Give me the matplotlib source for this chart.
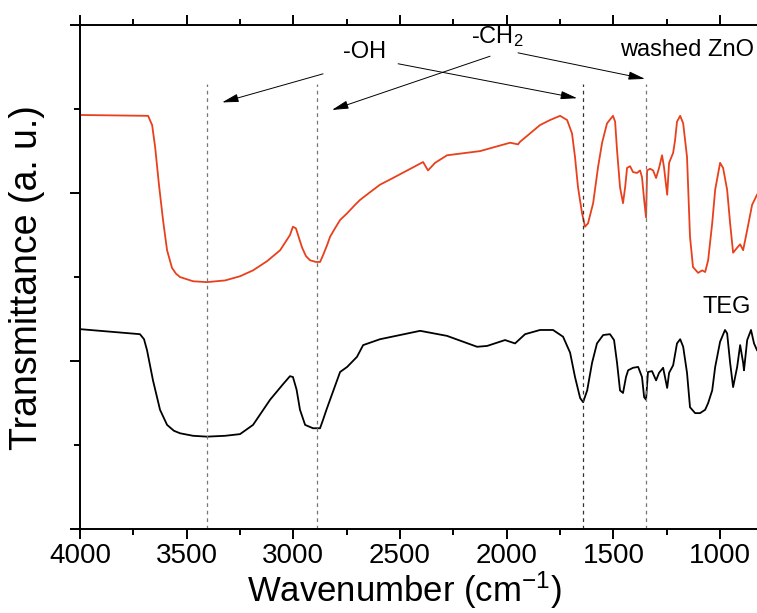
import numpy as np
import matplotlib.pyplot as plt
from matplotlib.ticker import MultipleLocator

plt.rcParams['font.family'] = ['Liberation Sans', 'DejaVu Sans']
plt.rcParams['mathtext.fontset'] = 'custom'
plt.rcParams['mathtext.rm'] = 'Liberation Sans'
plt.rcParams['mathtext.it'] = 'Liberation Sans'

# washed ZnO spectrum (wavenumber, transmittance a.u.)
zno_wn = [4000, 3681, 3662, 3648, 3630, 3611, 3592, 3569, 3550, 3531, 3470, 3405, 3320,
          3250, 3189, 3123, 3062, 3016, 3002, 2988, 2973, 2959, 2941, 2922, 2894, 2875,
          2861, 2842, 2828, 2805, 2781, 2748, 2711, 2687, 2641, 2594, 2533, 2392, 2369,
          2336, 2280, 2125, 1984, 1947, 1938, 1844, 1797, 1750, 1717, 1694, 1680, 1666,
          1647, 1633, 1619, 1595, 1572, 1553, 1530, 1502, 1492, 1483, 1469, 1455, 1445,
          1436, 1422, 1408, 1389, 1375, 1366, 1356, 1347, 1342, 1328, 1314, 1300, 1286,
          1272, 1263, 1248, 1239, 1220, 1211, 1202, 1187, 1173, 1155, 1141, 1127, 1103,
          1084, 1070, 1056, 1037, 1023, 1000, 986, 967, 953, 939, 920, 906, 892, 873,
          850, 827]
zno_t = [4.93, 4.92, 4.81, 4.55, 4.10, 3.68, 3.32, 3.11, 3.04, 3.00, 2.95, 2.94, 2.96,
         3.01, 3.08, 3.19, 3.32, 3.50, 3.60, 3.58, 3.46, 3.35, 3.25, 3.20, 3.18, 3.18,
         3.26, 3.38, 3.48, 3.58, 3.68, 3.76, 3.86, 3.92, 4.01, 4.10, 4.18, 4.37, 4.27,
         4.36, 4.45, 4.50, 4.60, 4.58, 4.61, 4.81, 4.87, 4.92, 4.87, 4.71, 4.43, 4.07,
         3.76, 3.60, 3.64, 3.88, 4.31, 4.60, 4.83, 4.92, 4.85, 4.51, 4.07, 3.88, 4.07,
         4.30, 4.32, 4.25, 4.24, 4.27, 4.19, 3.92, 3.71, 4.27, 4.29, 4.27, 4.18, 4.30,
         4.45, 4.31, 3.98, 4.36, 4.48, 4.63, 4.85, 4.92, 4.83, 4.43, 3.48, 3.12, 3.05,
         3.08, 3.06, 3.20, 3.64, 4.04, 4.36, 4.30, 4.04, 3.64, 3.29, 3.35, 3.39, 3.32,
         3.56, 3.86, 3.98]

# TEG spectrum
teg_wn = [4000, 3719, 3700, 3686, 3658, 3625, 3592, 3560, 3531, 3470, 3405, 3320, 3250,
          3189, 3109, 3050, 3016, 3002, 2985, 2969, 2945, 2908, 2875, 2861, 2845, 2828,
          2781, 2748, 2702, 2673, 2594, 2500, 2406, 2280, 2139, 2092, 2008, 1961, 1914,
          1844, 1783, 1736, 1703, 1680, 1656, 1642, 1623, 1600, 1577, 1548, 1516, 1497,
          1483, 1469, 1455, 1441, 1431, 1408, 1384, 1366, 1356, 1347, 1338, 1319, 1300,
          1286, 1267, 1248, 1239, 1220, 1202, 1187, 1173, 1155, 1141, 1117, 1094, 1070,
          1056, 1037, 1023, 1000, 977, 967, 953, 939, 920, 906, 892, 888, 873, 855, 841,
          827]
teg_t = [2.38, 2.32, 2.26, 2.13, 1.77, 1.42, 1.24, 1.17, 1.14, 1.11, 1.10, 1.11, 1.13,
         1.24, 1.54, 1.72, 1.82, 1.81, 1.66, 1.42, 1.24, 1.20, 1.20, 1.30, 1.42, 1.54,
         1.87, 1.93, 2.05, 2.19, 2.26, 2.31, 2.36, 2.30, 2.17, 2.18, 2.25, 2.21, 2.32,
         2.37, 2.37, 2.29, 2.10, 1.81, 1.56, 1.51, 1.65, 1.98, 2.21, 2.31, 2.32, 2.25,
         1.98, 1.65, 1.62, 1.81, 1.89, 1.92, 1.93, 1.81, 1.57, 1.54, 1.87, 1.88, 1.77,
         1.86, 1.92, 1.68, 1.86, 1.95, 2.21, 2.26, 2.17, 1.86, 1.45, 1.38, 1.38, 1.42,
         1.50, 1.65, 1.93, 2.23, 2.37, 2.33, 1.98, 1.69, 1.93, 2.19, 1.98, 1.89, 2.25,
         2.37, 2.21, 2.13]

# marked band positions
bands = [3405, 2890, 1642, 1347]
band_top = 5.30

fig = plt.figure(figsize=(7.57, 6.13), dpi=100)
ax = fig.add_axes([0.1057, 0.137, 0.8943, 0.822])

ax.plot(zno_wn, zno_t, color='#e8401c', lw=1.3, solid_joinstyle='round')
ax.plot(teg_wn, teg_t, color='black', lw=1.3, solid_joinstyle='round')

for i, b in enumerate(bands):
    ax.plot([b, b], [0, band_top], ls=(0, (3, 3)), lw=0.9,
            color='#333333' if i == 2 else '#777777')

arrow = dict(arrowstyle='-|>,head_length=1.0,head_width=0.25', color='black',
             lw=0.7, shrinkA=0, shrinkB=0)
ax.text(2664, 5.68, '-OH', fontsize=17, ha='center', va='center')
ax.annotate('', xy=(3334, 5.08), xytext=(2861, 5.42), arrowprops=arrow)
ax.annotate('', xy=(1670, 5.13), xytext=(2509, 5.54), arrowprops=arrow)
ax.text(2045, 5.86, '-CH$_{2}$', fontsize=17, ha='center', va='center')
ax.annotate('', xy=(2819, 4.99), xytext=(2078, 5.63), arrowprops=arrow)
ax.annotate('', xy=(1352, 5.36), xytext=(1947, 5.67), arrowprops=arrow)
ax.text(1155, 5.70, 'washed ZnO', fontsize=17, ha='center', va='center')
ax.text(967, 2.64, 'TEG', fontsize=17, ha='center', va='center')

ax.set_xlim(4000, 827)
ax.set_ylim(0, 6)
ax.xaxis.set_major_locator(MultipleLocator(500))
ax.xaxis.set_minor_locator(MultipleLocator(250))
ax.yaxis.set_major_locator(MultipleLocator(2))
ax.yaxis.set_minor_locator(MultipleLocator(1))
ax.tick_params(which='both', direction='out', width=1.4, top=True, right=False,
               labeltop=False, labelleft=False)
ax.tick_params(which='major', length=7, labelsize=20, pad=3)
ax.tick_params(which='minor', length=4)
ax.spines['right'].set_visible(False)
for s in ['left', 'top', 'bottom']:
    ax.spines[s].set_linewidth(1.4)

ax.set_xlabel('Wavenumber (cm$^{-1}$)', fontsize=25)
ax.set_ylabel('Transmittance (a. u.)', fontsize=27)
ax.xaxis.set_label_coords(0.479, -0.08)
ax.yaxis.set_label_coords(-0.052, 0.5)

fig.savefig('out.png', dpi=100)
